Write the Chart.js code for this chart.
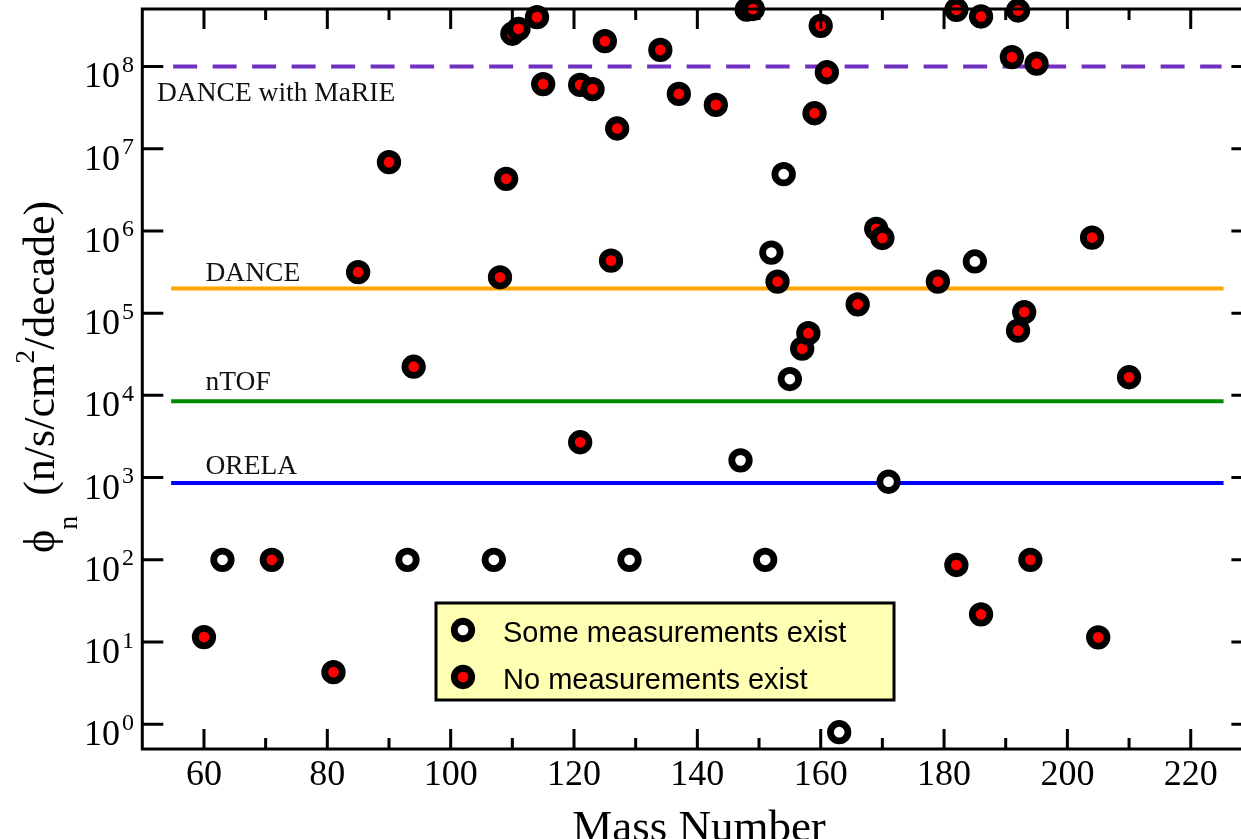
<!DOCTYPE html>
<html>
<head>
<meta charset="utf-8">
<script src="https://cdn.jsdelivr.net/npm/chart.js@4.4.1/dist/chart.umd.min.js"></script>
<style>
  html, body { margin: 0; padding: 0; background: #fff; overflow: hidden; }
  canvas { display: block; }
</style>
</head>
<body>
<canvas id="chart" width="1270" height="839"></canvas>
<script>
// Isotopes for which capture data already exist: mass number and required flux (n/s/cm^2/decade)
const someMass = [63, 93, 107, 129, 151, 147, 152, 154, 155, 163, 171, 185];
const someFlux = [100, 100, 100, 100, 100, 1.62e3, 5.45e5, 4.9e6, 1.58e4, 0.8, 890, 4.25e5];

// Isotopes with no measurement yet
const noneMass = [60, 71, 81, 85, 90, 94, 108, 109, 110, 111,
                  114, 115, 121, 123, 125, 126, 127, 134, 137, 143,
                  148, 149, 121, 153, 157, 158, 159, 160, 161, 166,
                  169, 170, 179, 182, 182, 186, 186, 191, 192, 192,
                  193, 194, 195, 204, 205, 210];
const noneFlux = [11.5, 100, 4.3, 3.15e5, 6.85e6, 2.23e4, 2.73e5, 4.3e6, 2.5e8, 2.87e8,
                  3.98e8, 6.1e7, 5.97e7, 5.3e7, 2.03e8, 4.35e5, 1.76e7, 1.59e8, 4.64e7, 3.41e7,
                  4.9e8, 5.0e8, 2.69e3, 2.42e5, 3.7e4, 5.7e4, 2.7e7, 3.12e8, 8.5e7, 1.28e5,
                  1.06e6, 8.2e5, 2.42e5, 4.89e8, 86.5, 4.05e8, 21.7, 1.3e8, 4.79e8, 6.12e4,
                  1.03e5, 100, 1.08e8, 8.3e5, 11.4, 1.66e4];

// Facility flux levels
const facilityNames = ['DANCE with MaRIE', 'DANCE', 'nTOF', 'ORELA'];
const facilityFlux = [1e8, 2e5, 8.5e3, 860];
const facilitySpan = [55, 225];

// Axis ticks
const massLabels = [60, 80, 100, 120, 140, 160, 180, 200, 220];
const fluxExponents = [0, 1, 2, 3, 4, 5, 6, 7, 8];
const legendLabels = ['Some measurements exist', 'No measurements exist'];

// ---- styling ----
const SERIF = '"Liberation Serif", "Times New Roman", "DejaVu Serif", serif';
const SANS = '"Liberation Sans", Arial, Helvetica, sans-serif';
const facilityColors = ['#7030c0', '#ffa500', '#008800', '#0000ff'];
const facilityDash = [[24, 15.5], [], [], []];
const MARK_R = 8.75, MARK_BW = 6.8;
const RED = '#ff0000';

function pts(xs, ys) { return xs.map((m, i) => ({ x: m, y: ys[i] })); }

const datasets = [
  {
    label: legendLabels[0],
    data: pts(someMass, someFlux),
    pointRadius: MARK_R, pointHoverRadius: MARK_R,
    pointBorderWidth: MARK_BW,
    pointBackgroundColor: '#ffffff', pointBorderColor: '#000000',
    showLine: false, clip: false
  },
  {
    label: legendLabels[1],
    data: pts(noneMass, noneFlux),
    pointRadius: MARK_R, pointHoverRadius: MARK_R,
    pointBorderWidth: MARK_BW,
    pointBackgroundColor: RED, pointBorderColor: '#000000',
    showLine: false, clip: false
  }
];
facilityNames.forEach((name, i) => {
  datasets.push({
    label: name,
    type: 'line',
    data: facilitySpan.map(m => ({ x: m, y: facilityFlux[i] })),
    borderColor: facilityColors[i],
    borderWidth: 4,
    borderDash: facilityDash[i],
    borderCapStyle: facilityDash[i].length ? 'butt' : 'square',
    pointRadius: 0,
    showLine: true,
    fill: false
  });
});

// Frame, inward ticks, tick labels, titles, line captions and the legend box
const decorPlugin = {
  id: 'decor',
  afterDatasetsDraw(chart) {
    const { ctx, chartArea: a, scales: { x, y } } = chart;
    ctx.save();

    // frame
    ctx.strokeStyle = '#000';
    ctx.lineWidth = 3;
    ctx.lineCap = 'butt';
    ctx.strokeRect(a.left, a.top, a.right - a.left, a.bottom - a.top);

    // ticks pointing into the plot on all four sides
    ctx.beginPath();
    x.ticks.forEach(t => {
      const v = t.value;
      if (v <= x.min || v >= x.max) return;
      const len = v % 20 === 0 ? 20 : 11;
      const px = x.getPixelForValue(v);
      ctx.moveTo(px, a.bottom); ctx.lineTo(px, a.bottom - len);
      ctx.moveTo(px, a.top); ctx.lineTo(px, a.top + len);
    });
    y.ticks.forEach(t => {
      const py = y.getPixelForValue(t.value);
      ctx.moveTo(a.left, py); ctx.lineTo(a.left + 21, py);
      ctx.moveTo(a.right, py); ctx.lineTo(a.right - 21, py);
    });
    ctx.stroke();

    ctx.fillStyle = '#000';
    ctx.textBaseline = 'alphabetic';

    // x tick labels
    ctx.font = '36px ' + SERIF;
    ctx.textAlign = 'center';
    massLabels.forEach(v => ctx.fillText(String(v), x.getPixelForValue(v), 785));

    // y tick labels: 10 with raised exponent
    fluxExponents.forEach(e => {
      const py = y.getPixelForValue(Math.pow(10, e));
      ctx.font = '36px ' + SERIF;
      ctx.textAlign = 'right';
      ctx.fillText('10', 120, py + 21);
      ctx.font = '24px ' + SERIF;
      ctx.textAlign = 'left';
      ctx.fillText(String(e), 122, py + 5.5);
    });

    // x title
    ctx.font = '45px ' + SERIF;
    ctx.textAlign = 'center';
    ctx.fillText('Mass Number', 699, 841);

    // y title, rotated, written piece by piece for sub/superscripts
    ctx.save();
    ctx.translate(54, 553);
    ctx.rotate(-Math.PI / 2);
    ctx.textAlign = 'left';
    let cx = 0;
    const piece = (txt, size, shift) => {
      ctx.font = size + 'px ' + SERIF;
      ctx.fillText(txt, cx, shift);
      cx += ctx.measureText(txt).width;
    };
    piece('\u03D5', 44, 0);
    piece('n', 28, 23);
    cx += 20;
    piece('(n/s/cm', 44, 0);
    piece('2', 28, -20);
    piece('/decade)', 44, 0);
    ctx.restore();

    // facility captions
    ctx.font = '27.5px ' + SERIF;
    ctx.fillStyle = '#111';
    ctx.textAlign = 'left';
    const capX = [157, 205.5, 205.5, 205.5];
    const capDy = [35, -7, -11, -9];
    facilityNames.forEach((name, i) => {
      const py = y.getPixelForValue(facilityFlux[i]);
      ctx.fillText(name, capX[i], py + capDy[i]);
    });

    // legend box
    ctx.fillStyle = '#ffffb3';
    ctx.fillRect(436, 603, 458, 97);
    ctx.strokeStyle = '#000';
    ctx.lineWidth = 3;
    ctx.strokeRect(436, 603, 458, 97);
    const rows = [[630, '#ffffff'], [677, RED]];
    rows.forEach(([ly, col], i) => {
      ctx.beginPath();
      ctx.arc(463, ly, MARK_R, 0, Math.PI * 2);
      ctx.fillStyle = col;
      ctx.fill();
      ctx.lineWidth = MARK_BW;
      ctx.strokeStyle = '#000';
      ctx.stroke();
      ctx.fillStyle = '#000';
      ctx.font = '29px ' + SANS;
      ctx.textAlign = 'left';
      ctx.fillText(legendLabels[i], 503, ly + 12);
    });

    ctx.restore();
  }
};

new Chart(document.getElementById('chart'), {
  type: 'scatter',
  data: { datasets },
  options: {
    responsive: false,
    animation: false,
    devicePixelRatio: 1,
    layout: { autoPadding: false, padding: { top: 9, right: 17.6, bottom: 0, left: 0 } },
    plugins: { legend: { display: false }, tooltip: { enabled: false } },
    scales: {
      x: {
        type: 'linear', min: 50, max: 230,
        ticks: { stepSize: 10, display: false },
        grid: { display: false, drawTicks: false },
        border: { display: false },
        afterFit: s => { s.height = 90; }
      },
      y: {
        type: 'logarithmic', min: 0.5, max: 5e8,
        ticks: { display: false },
        grid: { display: false, drawTicks: false },
        border: { display: false },
        afterBuildTicks: s => { s.ticks = fluxExponents.map(e => ({ value: Math.pow(10, e) })); },
        afterFit: s => { s.width = 142.3; }
      }
    }
  },
  plugins: [decorPlugin]
});
</script>
</body>
</html>
